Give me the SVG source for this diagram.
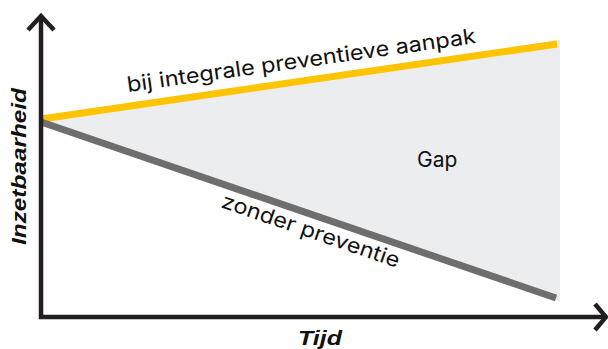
<svg xmlns="http://www.w3.org/2000/svg" width="608" height="349" viewBox="0 0 608 349">
<style>
.axis{stroke:#231f20;stroke-width:4.5;fill:none}
.lbl{font-family:Inter,"Liberation Sans",sans-serif;font-size:21px;fill:#111}
.ax{font-family:"Liberation Sans",Arial,sans-serif;font-size:21px;font-weight:bold;font-style:italic;fill:#111}
</style>
<rect width="608" height="349" fill="#fff"/>
<g id="gap">
<polygon points="41,120 560,40 560,302 41,122" fill="#ecedef"/>
<text class="lbl" x="417" y="167">Gap</text>
</g>
<g id="connectors">
<line x1="41" y1="119" x2="557" y2="44" stroke="#ffc400" stroke-width="7"/>
<line x1="41" y1="122" x2="556" y2="298" stroke="#6e6e6e" stroke-width="7"/>
</g>
<g id="axes">
<line class="axis" x1="41" y1="16" x2="41" y2="319"/>
<polyline class="axis" points="28,30 41,16 54,30"/>
<line class="axis" x1="39" y1="317" x2="605" y2="317"/>
<polyline class="axis" points="595,304 606,317 595,330"/>
</g>
<g id="labels">
<text class="lbl" transform="translate(128,92) rotate(-8)" textLength="352" lengthAdjust="spacingAndGlyphs">bij integrale preventieve aanpak</text>
<text class="lbl" transform="translate(220,207) rotate(19)" textLength="187" lengthAdjust="spacingAndGlyphs">zonder preventie</text>
<text class="ax" transform="translate(26,245) rotate(-90)" textLength="157" lengthAdjust="spacingAndGlyphs">Inzetbaarheid</text>
<text class="ax" x="298" y="345" textLength="44" lengthAdjust="spacingAndGlyphs">Tijd</text>
</g>
</svg>
